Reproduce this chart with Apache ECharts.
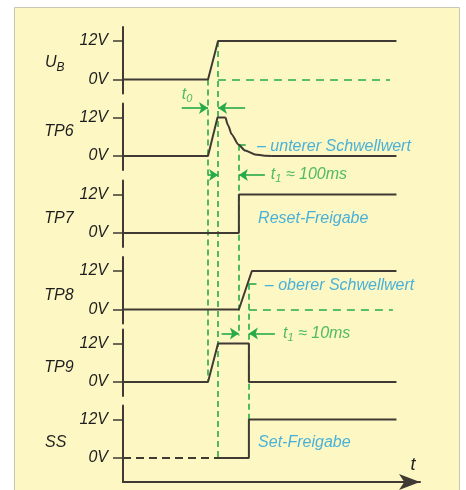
<!DOCTYPE html>
<html><head><meta charset="utf-8">
<script src="https://cdn.jsdelivr.net/npm/echarts@6/dist/echarts.min.js"></script>
<style>html,body{margin:0;padding:0;background:#fff}#c{width:466px;height:490px}</style>
</head><body><div id="c"></div>
<script>
// ---------- data ----------
const signalNames = ['U_B', 'TP6', 'TP7', 'TP8', 'TP9', 'SS'];
const yTickValues = [0, 12];
const yTickLabels = ['0V', '12V'];
const timeAxisName = 't';

// signal curves: [time, volts]
const ubValues   = [[0, 0], [31.4, 0], [35.1, 12], [101, 12]];
const tp6Values  = [[0, 0], [31.4, 0], [34.9, 12], [37.9, 12]];
const tp6Decay   = [[37.9, 12], [38.9, 9.4], [40.1, 6.8], [42.6, 3.6], [45.1, 1.7], [48.7, 0.5], [52.4, 0.1], [55, 0]];
const tp6Tail    = [[55, 0], [101, 0]];
const tp7Values  = [[0, 0], [42.8, 0], [42.8, 12], [101, 12]];
const tp8Values  = [[0, 0], [42.8, 0], [47.6, 12], [101, 12]];
const tp9Values  = [[0, 0], [31.4, 0], [35.1, 12], [46.5, 12], [46.5, 0], [101, 0]];
const ssUnknown  = [[0, 0], [35.1, 0]];
const ssValues   = [[35.1, 0], [46.5, 0], [46.5, 12], [101, 12]];

// green guide lines: time, from [panel, volts] to [panel, volts]
const guideTimes = [31.4, 35.1, 42.8, 46.5];
const guideFrom  = [[0, 0], [0, 12], [1, 3.5], [3, 8]];
const guideTo    = [[4, 0], [5, 0], [4, 14.5], [5, 12]];
// green dashed level lines: panel, volts, t start, t end
const levelLines = [[0, 0, 35.1, 98.6], [3, 0, 46.5, 99.7]];
// threshold marks: panel, volts, t start, t end
const thresholdMarks = [[1, 3.5, 42.8, 45.3], [3, 8, 46.5, 49.3]];
// time-span arrows: panel, volts, t from, t to (arrow at "to")
const spanArrows = [
  [1, 15, 21.7, 31.4], [1, 15, 45.1, 35.1],
  [1, -5.9, 31.4, 35.1], [1, -5.9, 52.4, 42.8],
  [4, 15.1, 36.4, 42.8], [4, 15.1, 56.1, 46.5]
];
// annotation texts: panel, t, volts, text, colour key
const annotations = [
  [1, 21.7, 19.0, '{t|t}{s|0}', 'green'],
  [1, 54.6, -5.9, '{t|t}{s|1}{t| ≈ 100ms}', 'green'],
  [4, 59.1, 15.0, '{t|t}{s|1}{t| ≈ 10ms}', 'green'],
  [1, 49.5, 3.1, '– unterer Schwellwert', 'blue'],
  [2, 49.9, 4.5, 'Reset-Freigabe', 'blue'],
  [3, 52.4, 7.6, '– oberer Schwellwert', 'blue'],
  [5, 49.9, 4.7, 'Set-Freigabe', 'blue']
];

// ---------- layout / style ----------
const zeroY = [79.5, 156, 233, 309.5, 382, 458];
const ppv = 38.5 / 12;
const padTopPx = 14;
const padBotPx = [14, 14, 14, 14, 14, 24];
const nameDy = [2.5, -5, 4.5, 5, 4.5, -1];
const plotLeft = 123, plotWidth = 297, xMax = 109.7;
const dark = '#3f3a33', green = '#26ab48', blue = '#1a9fdc', ink = '#1e1e1e';
const FONT = "'Liberation Sans', Arial, sans-serif";
const colors = {green: green, blue: blue};

function toPanel(ref, p, v) { return v + (zeroY[ref] - zeroY[p]) / ppv; }

const grids = [], xAxes = [], yAxes = [], series = [];
for (let i = 0; i < 6; i++) {
  const pb = padBotPx[i];
  grids.push({left: plotLeft, width: plotWidth, top: zeroY[i] - 12 * ppv - padTopPx, height: 12 * ppv + padTopPx + pb});
  const isLast = i === 5;
  xAxes.push({
    gridIndex: i, type: 'value', min: 0, max: xMax, show: isLast,
    axisLine: {show: isLast, onZero: false, symbol: ['none', 'arrow'], symbolSize: [12, 21], lineStyle: {color: dark, width: 2}},
    axisTick: {show: false}, axisLabel: {show: false}, splitLine: {show: false},
    name: isLast ? timeAxisName : '', nameLocation: 'end', nameGap: -7,
    nameTextStyle: {fontFamily: FONT, fontStyle: 'italic', fontSize: 18, color: ink, align: 'center', verticalAlign: 'bottom', padding: [0, 0, 8, 0]}
  });
  const dy = nameDy[i];
  const nameText = i === 0 ? '{u|U}{b|B}' : signalNames[i];
  yAxes.push({
    gridIndex: i, type: 'value', min: -pb / ppv, max: 12 + padTopPx / ppv,
    axisLine: {show: true, onZero: false, lineStyle: {color: dark, width: 2}},
    axisTick: {show: true, customValues: yTickValues, length: 10, lineStyle: {color: dark, width: 1.5}},
    axisLabel: {show: true, customValues: yTickValues, margin: 15,
      formatter: function (v) { return yTickLabels[yTickValues.indexOf(v)]; },
      fontFamily: FONT, fontStyle: 'italic', fontSize: 16, color: ink},
    splitLine: {show: false},
    name: nameText, nameLocation: 'middle', nameRotate: 0, nameGap: 78,
    nameTextStyle: {fontFamily: FONT, fontStyle: 'italic', fontSize: 16, color: ink, align: 'left',
      padding: dy >= 0 ? [2 * dy, 0, 0, 0] : [0, 0, -2 * dy, 0],
      rich: {u: {fontFamily: FONT, fontStyle: 'italic', fontSize: 16, color: ink},
             b: {fontFamily: FONT, fontStyle: 'italic', fontSize: 12, color: ink, padding: [9, 0, 0, 0]}}}
  });
}

function lineSeries(i, data, extra) {
  return Object.assign({type: 'line', xAxisIndex: i, yAxisIndex: i, data: data, showSymbol: false, animation: false,
    lineStyle: {color: dark, width: 2}, z: 5}, extra || {});
}
series.push(lineSeries(0, ubValues));
series.push(lineSeries(1, tp6Values));
series.push(lineSeries(1, tp6Decay, {smooth: 0.25, smoothMonotone: 'x'}));
series.push(lineSeries(1, tp6Tail));
series.push(lineSeries(2, tp7Values));
series.push(lineSeries(3, tp8Values));
series.push(lineSeries(4, tp9Values));
series.push(lineSeries(5, ssUnknown, {lineStyle: {color: dark, width: 2, type: [8, 5]}}));
series.push(lineSeries(5, ssValues));

// green guides (vertical, spanning panels)
guideTimes.forEach(function (t, k) {
  const ref = guideFrom[k][0];
  series.push({type: 'lines', coordinateSystem: 'cartesian2d', xAxisIndex: ref, yAxisIndex: ref, clip: false, animation: false, z: 3,
    symbol: 'none', lineStyle: {color: green, width: 1.6, type: [6, 4], opacity: 1},
    data: [{coords: [[t, guideFrom[k][1]], [t, toPanel(ref, guideTo[k][0], guideTo[k][1])]]}]});
});
levelLines.forEach(function (l) {
  series.push({type: 'lines', coordinateSystem: 'cartesian2d', xAxisIndex: l[0], yAxisIndex: l[0], clip: false, animation: false, z: 3,
    symbol: 'none', lineStyle: {color: green, width: 1.6, type: [8, 6], opacity: 1},
    data: [{coords: [[l[2], l[1]], [l[3], l[1]]]}]});
});
thresholdMarks.forEach(function (l) {
  series.push({type: 'lines', coordinateSystem: 'cartesian2d', xAxisIndex: l[0], yAxisIndex: l[0], clip: false, animation: false, z: 3,
    symbol: 'none', lineStyle: {color: green, width: 1.6, opacity: 1},
    data: [{coords: [[l[2], l[1]], [l[3], l[1]]]}]});
});
spanArrows.forEach(function (a) {
  series.push({type: 'lines', coordinateSystem: 'cartesian2d', xAxisIndex: a[0], yAxisIndex: a[0], clip: false, animation: false, z: 4,
    symbol: ['none', 'arrow'], symbolSize: [6, 9], lineStyle: {color: green, width: 1.6, opacity: 1},
    data: [{coords: [[a[2], a[1]], [a[3], a[1]]]}]});
});
annotations.forEach(function (a) {
  const c = colors[a[4]];
  series.push({type: 'scatter', xAxisIndex: a[0], yAxisIndex: a[0], clip: false, animation: false, z: 6,
    symbolSize: 0, itemStyle: {color: 'rgba(0,0,0,0)'},
    data: [{value: [a[1], a[2]], name: a[3]}],
    label: {show: true, position: 'right', distance: 0, formatter: '{b}',
      fontFamily: FONT, fontStyle: 'italic', fontSize: 16, color: c,
      rich: {t: {fontFamily: FONT, fontStyle: 'italic', fontSize: 16, color: c},
             s: {fontFamily: FONT, fontStyle: 'italic', fontSize: 11, color: c, padding: [8, 0, 0, 0]}}},
    emphasis: {disabled: true}});
});

const chart = echarts.init(document.getElementById('c'), null, {renderer: 'canvas'});
chart.setOption({
  backgroundColor: '#ffffff',
  animation: false,
  graphic: [{type: 'rect', z: -10, silent: true, shape: {x: 14.5, y: 7.5, width: 445, height: 500},
    style: {fill: '#fdf7c4', stroke: '#c9c6b6', lineWidth: 1}}],
  grid: grids, xAxis: xAxes, yAxis: yAxes, series: series
});
</script></body></html>
